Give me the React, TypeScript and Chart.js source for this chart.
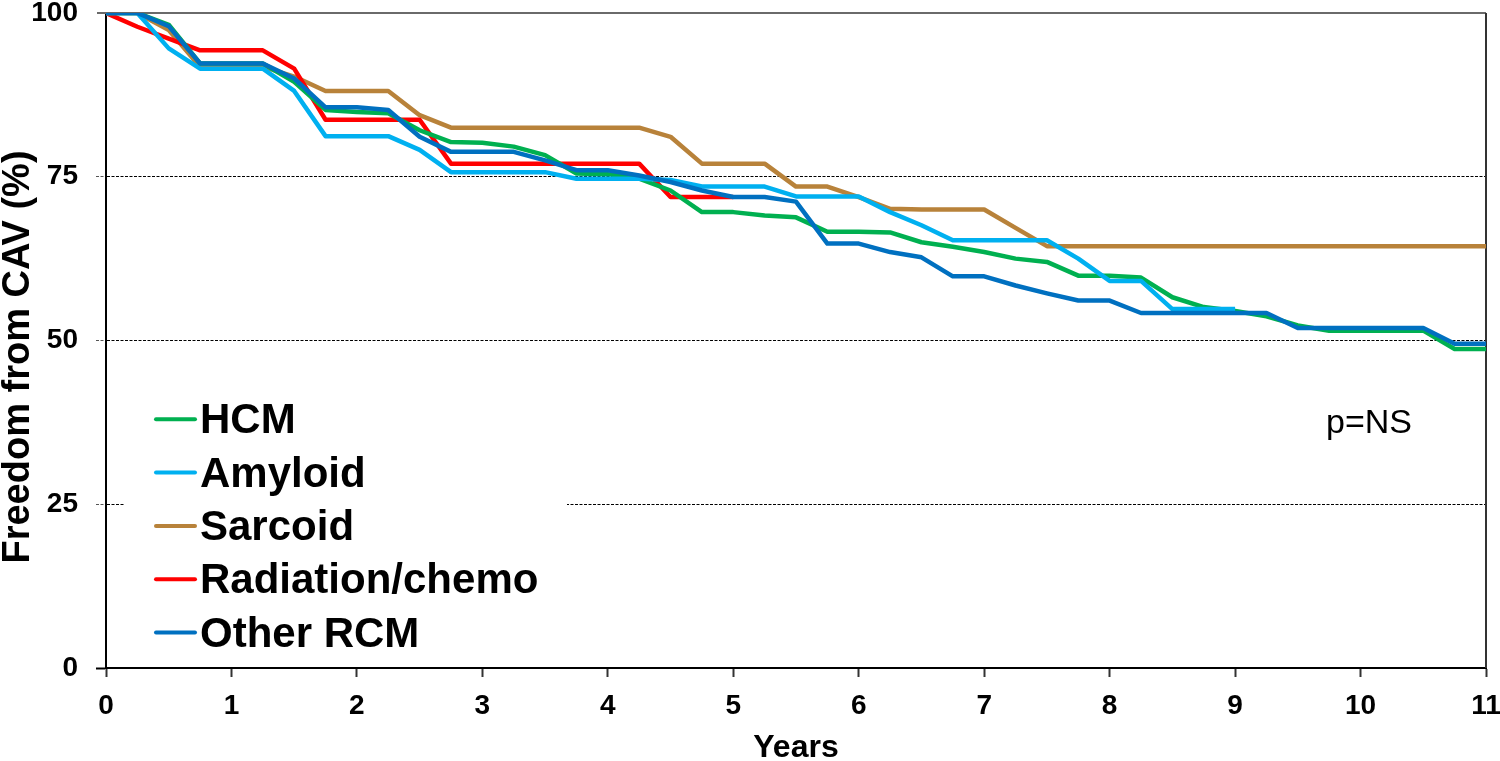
import React, { useEffect, useRef } from "react";
import { Chart, registerables } from "chart.js";

Chart.register(...registerables);

// ---- data ----
const years = [
  0, 0.25, 0.5, 0.75, 1, 1.25, 1.5, 1.75, 2, 2.25, 2.5, 2.75, 3, 3.25, 3.5, 3.75,
  4, 4.25, 4.5, 4.75, 5, 5.25, 5.5, 5.75, 6, 6.25, 6.5, 6.75, 7, 7.25, 7.5, 7.75,
  8, 8.25, 8.5, 8.75, 9, 9.25, 9.5, 9.75, 10, 10.25, 10.5, 10.75, 11,
];

const hcm = [
  100, 100, 98.2, 92.3, 92.3, 92.3, 89.5, 85.2, 84.9, 84.7, 82.1, 80.3, 80.2, 79.6, 78.3, 75.5,
  75.4, 74.7, 72.9, 69.6, 69.6, 69.1, 68.8, 66.6, 66.6, 66.5, 65.0, 64.3, 63.5, 62.5, 62.0, 59.9,
  59.9, 59.6, 56.6, 55.1, 54.5, 53.7, 52.3, 51.5, 51.5, 51.5, 51.5, 48.7, 48.7,
];

const amyloid = [
  100, 100, 94.6, 91.5, 91.5, 91.5, 88.1, 81.2, 81.2, 81.2, 79.1, 75.7, 75.7, 75.7, 75.7, 74.7,
  74.7, 74.7, 74.5, 73.5, 73.5, 73.5, 72.0, 72.0, 72.0, 69.6, 67.6, 65.3, 65.3, 65.3, 65.3, 62.5,
  59.1, 59.1, 54.8, 54.8, 54.8, null, null, null, null, null, null, null, null,
];

const sarcoid = [
  100, 100, 97.4, 91.8, 91.8, 91.8, 90.3, 88.1, 88.1, 88.1, 84.4, 82.5, 82.5, 82.5, 82.5, 82.5,
  82.5, 82.5, 81.1, 77.0, 77.0, 77.0, 73.5, 73.5, 71.9, 70.1, 70.0, 70.0, 70.0, 67.2, 64.4, 64.4,
  64.4, 64.4, 64.4, 64.4, 64.4, 64.4, 64.4, 64.4, 64.4, 64.4, 64.4, 64.4, 64.4,
];

const radiationChemo = [
  100, 97.9, 96.1, 94.3, 94.3, 94.3, 91.5, 83.7, 83.7, 83.7, 83.7, 77.0, 77.0, 77.0, 77.0, 77.0,
  77.0, 77.0, 71.9, 71.9, 71.9, null, null, null, null, null, null, null, null, null, null, null,
  null, null, null, null, null, null, null, null, null, null, null, null, null,
];

const otherRcm = [
  100, 100, 98.0, 92.3, 92.3, 92.3, 90.0, 85.6, 85.6, 85.2, 81.1, 78.8, 78.8, 78.8, 77.5, 76.0,
  76.0, 75.2, 74.2, 72.9, 71.9, 71.9, 71.2, 64.8, 64.8, 63.5, 62.7, 59.8, 59.8, 58.4, 57.2, 56.1,
  56.1, 54.2, 54.2, 54.2, 54.2, 54.2, 51.9, 51.9, 51.9, 51.9, 51.9, 49.5, 49.5,
];

const seriesNames = ["HCM", "Amyloid", "Sarcoid", "Radiation/chemo", "Other RCM"];
const seriesValues = [hcm, amyloid, sarcoid, radiationChemo, otherRcm];
const seriesColors = ["#00B050", "#00B0F0", "#B8823A", "#FF0000", "#0070C0"];
const seriesDrawOrder = [2, 1, 4, 3, 0];

const yTickValues = [0, 25, 50, 75, 100];
const xTickValues = [0, 1, 2, 3, 4, 5, 6, 7, 8, 9, 10, 11];
const yTitle = "Freedom from CAV (%)";
const xTitle = "Years";
const pValueText = "p=NS";

const FONT = "'Liberation Sans', Arial, Helvetica, sans-serif";

const decorPlugin = {
  id: "decor",
  beforeDatasetsDraw(chart: any) {
    const { ctx, chartArea: a } = chart;
    ctx.save();
    // top frame line (extends left like a tick)
    ctx.strokeStyle = "#6a6a6a";
    ctx.lineWidth = 2;
    ctx.beginPath();
    ctx.moveTo(a.left - 9, a.top);
    ctx.lineTo(a.right, a.top);
    ctx.stroke();
    // right frame line
    ctx.strokeStyle = "#333333";
    ctx.beginPath();
    ctx.moveTo(a.right, a.top);
    ctx.lineTo(a.right, a.bottom);
    ctx.stroke();
    ctx.restore();
  },
  afterDraw(chart: any) {
    const { ctx, chartArea: a } = chart;
    ctx.save();

    // legend box (white background inside plot area)
    const boxLeft = a.left + 19;
    const boxRight = a.left + 461;
    const boxTop = 392;
    const boxBottom = 660;
    ctx.fillStyle = "#ffffff";
    ctx.fillRect(boxLeft, boxTop, boxRight - boxLeft, boxBottom - boxTop);

    const datasets = chart.data.datasets;
    ctx.font = `bold 42px ${FONT}`;
    ctx.textAlign = "left";
    ctx.textBaseline = "alphabetic";
    for (let i = 0; i < datasets.length; i++) {
      const baseline = 433.3 + i * 53.3;
      const ly = baseline - 14;
      ctx.strokeStyle = datasets[i].borderColor;
      ctx.lineWidth = 4;
      ctx.lineCap = "round";
      ctx.beginPath();
      ctx.moveTo(a.left + 50, ly);
      ctx.lineTo(a.left + 89, ly);
      ctx.stroke();
      ctx.fillStyle = "#000000";
      ctx.fillText(datasets[i].label, a.left + 94, baseline);
    }

    // p-value annotation
    ctx.font = `34px ${FONT}`;
    ctx.textAlign = "center";
    ctx.fillStyle = "#000000";
    ctx.fillText(pValueText, 1369, 433);

    // y axis title (rotated)
    ctx.translate(29, 357);
    ctx.rotate(-Math.PI / 2);
    ctx.font = `bold 38px ${FONT}`;
    ctx.textAlign = "center";
    ctx.textBaseline = "alphabetic";
    ctx.fillText(yTitle, 0, 0);

    ctx.restore();
  },
};

export default function App() {
  const canvasRef = useRef<HTMLCanvasElement | null>(null);

  useEffect(() => {
    const canvas = canvasRef.current;
    if (!canvas) return;

    const datasets = seriesNames.map((name, si) => ({
      label: name,
      data: years
        .map((x, i) => ({ x, y: seriesValues[si][i] }))
        .filter((p) => p.y !== null && p.y !== undefined),
      borderColor: seriesColors[si],
      backgroundColor: seriesColors[si],
      borderWidth: 4.5,
      borderJoinStyle: "round" as const,
      borderCapStyle: "butt" as const,
      pointRadius: 0,
      pointHoverRadius: 0,
      tension: 0,
      fill: false,
      order: seriesDrawOrder[si],
    }));

    const chart = new Chart(canvas, {
      type: "line",
      data: { datasets },
      options: {
        animation: false,
        responsive: false,
        maintainAspectRatio: false,
        devicePixelRatio: 1,
        layout: { padding: { top: 13, right: 14, left: 0, bottom: 0 } },
        plugins: {
          legend: { display: false },
          tooltip: { enabled: false },
          title: { display: false },
        },
        scales: {
          x: {
            type: "linear",
            min: 0,
            max: 11,
            afterBuildTicks: (scale: any) => {
              scale.ticks = xTickValues.map((v) => ({ value: v }));
            },
            ticks: {
              stepSize: 1,
              color: "#000000",
              padding: 12,
              font: { family: FONT, size: 28, weight: "bold" },
            },
            grid: {
              drawOnChartArea: false,
              drawTicks: true,
              tickLength: 9,
              tickColor: "#333333",
              tickWidth: 2,
            },
            border: { display: true, color: "#000000", width: 2 },
            title: {
              display: true,
              text: xTitle,
              color: "#000000",
              font: { family: FONT, size: 32, weight: "bold", lineHeight: 0.8 },
              padding: { top: 0, bottom: 0 },
            },
            afterFit: (scale: any) => {
              scale.height = 93;
              scale.paddingLeft = 0;
              scale.paddingRight = 0;
            },
          },
          y: {
            type: "linear",
            min: 0,
            max: 100,
            afterBuildTicks: (scale: any) => {
              scale.ticks = yTickValues.map((v) => ({ value: v }));
            },
            ticks: {
              stepSize: 25,
              color: "#000000",
              padding: 18,
              font: { family: FONT, size: 28, weight: "bold" },
            },
            grid: {
              drawOnChartArea: true,
              drawTicks: true,
              tickLength: 10,
              lineWidth: 1,
              color: (c: any) =>
                c.tick && c.tick.value > 0 && c.tick.value < 100 ? "#000000" : "rgba(0,0,0,0)",
              tickColor: (c: any) =>
                c.tick && c.tick.value === 100 ? "rgba(0,0,0,0)" : c.tick && c.tick.value === 0 ? "#000000" : "#555555",
              tickWidth: (c: any) => (c.tick && c.tick.value === 0 ? 2 : 1),
              tickBorderDash: (c: any) => (c.tick && c.tick.value === 0 ? [] : [3, 1.5]),
            },
            border: { display: true, color: "#000000", width: 2, dash: [3, 1.5] },
            afterFit: (scale: any) => {
              scale.width = 106;
              scale.paddingTop = 0;
              scale.paddingBottom = 0;
            },
          },
        },
      },
      plugins: [decorPlugin],
    } as any);

    return () => {
      chart.destroy();
    };
  }, []);

  return (
    <div
      style={{
        position: "absolute",
        left: 0,
        top: 0,
        width: 1500,
        height: 761,
        background: "#ffffff",
        overflow: "hidden",
      }}
    >
      <canvas ref={canvasRef} width={1500} height={761} style={{ display: "block", width: 1500, height: 761 }} />
    </div>
  );
}
